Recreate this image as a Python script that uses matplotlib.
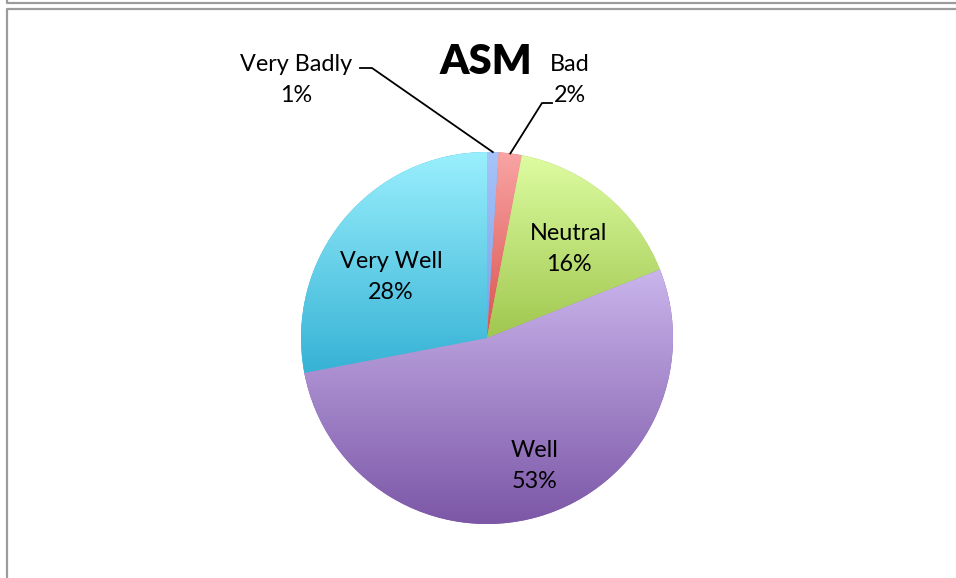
import matplotlib.pyplot as plt
import numpy as np
from matplotlib.colors import LinearSegmentedColormap
from matplotlib.lines import Line2D

plt.switch_backend('agg')
plt.rcParams['font.family'] = ['Lato', 'DejaVu Sans']

labels = ['Very Badly', 'Bad', 'Neutral', 'Well', 'Very Well']
values = [1, 2, 16, 53, 28]
# top / bottom colour of each slice's gradient
top_colors = ['#a7c4fa', '#f9a4a4', '#ddfca1', '#cab5ec', '#9aeffd']
bottom_colors = ['#7aa0e4', '#d9534f', '#a0c74f', '#7c57a7', '#36b2d5']

W, H = 956, 578
fig = plt.figure(figsize=(W / 100, H / 100), dpi=100)
ax = fig.add_axes([0, 0, 1, 1])

cx, cy, R = 487, H - 338, 186
wedges, _ = ax.pie(values, startangle=90, counterclock=False, center=(cx, cy),
                   radius=R, colors=bottom_colors,
                   wedgeprops=dict(linewidth=0))

# vertical gradient fill, clipped to each wedge
for w, c1, c2 in zip(wedges, top_colors, bottom_colors):
    ext = w.get_path().get_extents()
    cmap = LinearSegmentedColormap.from_list('g', [c2, c1])
    grad = np.linspace(0, 1, 256).reshape(-1, 1)
    im = ax.imshow(grad, cmap=cmap, origin='lower', aspect='auto',
                   extent=[ext.x0, ext.x1, ext.y0, ext.y1], zorder=2)
    im.set_clip_path(w)

ax.set_xlim(0, W)
ax.set_ylim(0, H)
ax.set_aspect('equal')
ax.axis('off')

fs = 16.8
ls = 1.62
pct = ['%d%%' % v for v in values]

# labels inside the slices
inside = {2: (569, 249), 4: (391, 277), 3: (535, 466)}
for i, (x, y) in inside.items():
    ax.text(x, H - y, labels[i] + '\n' + pct[i], ha='center', va='center',
            fontsize=fs, linespacing=ls, zorder=5)

# outside labels with leader lines
def edge_point(w):
    a = np.deg2rad((w.theta1 + w.theta2) / 2)
    return cx + R * np.cos(a), cy + R * np.sin(a)

ax.text(296, H - 80, labels[0] + '\n' + pct[0], ha='center', va='center',
        fontsize=fs, linespacing=ls)
px, py = edge_point(wedges[0])
ax.plot([360, 372, px], [H - 68, H - 68, py], color='black', lw=1.3, zorder=6)

ax.text(570, H - 80, labels[1] + '\n' + pct[1], ha='center', va='center',
        fontsize=fs, linespacing=ls)
px, py = edge_point(wedges[1])
ax.plot([552, 542, px], [H - 103, H - 103, py], color='black', lw=1.3, zorder=6)

ax.text(486, H - 62, 'ASM', ha='center', va='center', fontsize=30,
        fontweight='heavy')

# chart frame lines
gray = '#9c9c9c'
fig.add_artist(Line2D([7 / W, 7 / W, 1], [1, 1 - 2.5 / H, 1 - 2.5 / H],
                      color=gray, lw=1.6))
fig.add_artist(Line2D([7 / W, 7 / W, 1], [0, 1 - 8.5 / H, 1 - 8.5 / H],
                      color=gray, lw=1.6))

plt.savefig('out.png', dpi=100)
